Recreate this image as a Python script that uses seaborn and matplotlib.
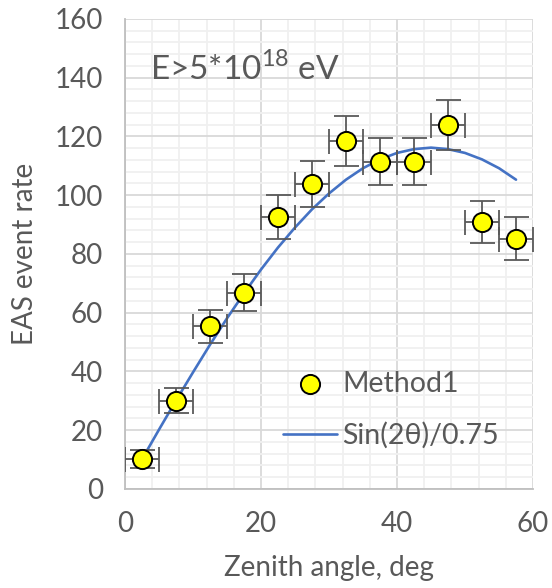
import numpy as np
import pandas as pd
import matplotlib
matplotlib.use('Agg')
import matplotlib.pyplot as plt
import seaborn as sns

# measured rates (Method1)
angle = [2.5, 7.5, 12.5, 17.5, 22.5, 27.5, 32.5, 37.5, 42.5, 47.5, 52.5, 57.5]
rate = [10.2, 30.1, 55.4, 66.8, 92.6, 103.7, 118.5, 111.4, 111.4, 123.9, 90.9, 85.2]
rate_err = [3.0, 4.2, 5.7, 6.3, 7.4, 7.8, 8.4, 8.0, 8.0, 8.6, 7.3, 7.3]
angle_err = [2.5] * 12

# curve, Sin(2θ)/0.75
curve_x = [2.5, 5, 7.5, 10, 12.5, 15, 17.5, 20, 22.5, 25, 27.5, 30, 32.5, 35,
           37.5, 40, 42.5, 45, 47.5, 50, 52.5, 55, 57.5]
curve_y = [10.1, 20.2, 30.1, 39.7, 49.1, 58.1, 66.6, 74.7, 82.2, 89.0, 95.2, 100.6,
           105.3, 109.2, 112.2, 114.4, 115.7, 116.2, 115.7, 114.4, 112.2, 109.2, 105.3]

sns.set_style('white')
plt.rcParams['font.family'] = ['Lato', 'DejaVu Sans']
plt.rcParams['mathtext.fontset'] = 'custom'
plt.rcParams['mathtext.rm'] = 'Lato'
txt = '#595959'

fig, ax = plt.subplots(figsize=(5.52, 5.88), dpi=100)
fig.subplots_adjust(left=0.2264, right=0.9656, bottom=0.1684, top=0.9677)

df = pd.DataFrame({'angle': angle, 'rate': rate})
cdf = pd.DataFrame({'x': curve_x, 'y': curve_y})

ax.errorbar(angle, rate, xerr=angle_err, yerr=rate_err, fmt='none',
            ecolor='#595959', elinewidth=1.3, capsize=9, capthick=1.3, zorder=3)
sns.lineplot(data=cdf, x='x', y='y', ax=ax, color='#4472C4', linewidth=1.9,
             label='Sin(2θ)/0.75', zorder=2)
sns.scatterplot(data=df, x='angle', y='rate', ax=ax, s=190, color='#FFFF00',
                edgecolor='black', linewidth=1.4, label='Method1', zorder=4)

ax.set_xlim(0, 60)
ax.set_ylim(0, 160)
ax.set_xticks(np.arange(0, 61, 20))
ax.set_yticks(np.arange(0, 161, 20))
ax.set_xticks(np.arange(0, 61, 4), minor=True)
ax.set_yticks(np.arange(0, 161, 4), minor=True)
ax.grid(which='major', color='#d9d9d9', linewidth=1.3)
ax.grid(which='minor', color='#f0f0f0', linewidth=1.3)
ax.set_axisbelow(True)
for s in ['top', 'right']:
    ax.spines[s].set_visible(False)
for s in ['left', 'bottom']:
    ax.spines[s].set_color('#bfbfbf')
    ax.spines[s].set_linewidth(1.3)
ax.tick_params(which='major', direction='out', length=5, width=1.3, color='#bfbfbf',
               labelsize=20, labelcolor=txt, pad=11)
ax.tick_params(which='minor', length=0)

ax.set_xlabel('Zenith angle, deg', fontsize=20, color=txt, labelpad=13)
ax.set_ylabel('EAS event rate', fontsize=20, color=txt, labelpad=12)

ax.text(3.7, 139.2, r'E>5*10$^{\mathrm{18}}$ eV', fontsize=24, color=txt, va='baseline')

h, l = ax.get_legend_handles_labels()
order = [l.index('Method1'), l.index('Sin(2θ)/0.75')]
ax.legend([h[i] for i in order], [l[i] for i in order], loc='upper left',
          bbox_to_anchor=(0.387, 0.252), frameon=False, fontsize=20.5, labelcolor=txt,
          borderpad=0, borderaxespad=0, handletextpad=0.18, handlelength=1.9,
          labelspacing=0.9)

fig.savefig('out.png', dpi=100)
